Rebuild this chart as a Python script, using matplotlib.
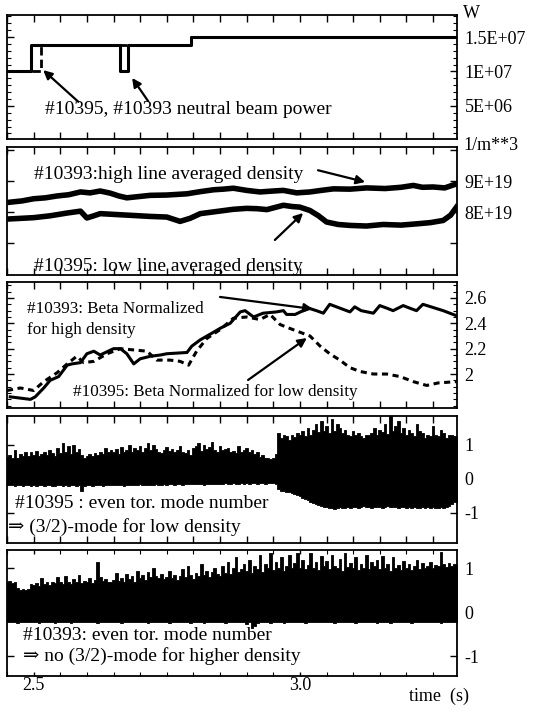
import numpy as np
import matplotlib
matplotlib.use("Agg")
import matplotlib.pyplot as plt
from matplotlib.ticker import MultipleLocator

plt.rcParams['font.family'] = ['Liberation Serif', 'DejaVu Serif']

# ---------------- data ----------------
# Panel 1: neutral beam power (W), step signals
nbi_t_10393 = [2.45, 2.496, 2.662, 2.678, 2.795, 3.295]
nbi_p_10393 = [1.0e7, 1.38e7, 1.0e7, 1.38e7, 1.5e7, 1.5e7]
nbi_t_10395 = [2.45, 2.514, 2.795, 3.295]
nbi_p_10395 = [1.0e7, 1.38e7, 1.5e7, 1.5e7]

# Panel 2: line averaged density (1e19 m^-3)
dens_hi_t = [2.456, 2.478, 2.500, 2.522, 2.544, 2.566, 2.588, 2.606, 2.625, 2.644,
             2.660, 2.675, 2.697, 2.719, 2.750, 2.788, 2.813, 2.838, 2.856, 2.875,
             2.900, 2.925, 2.950, 2.969, 2.994, 3.019, 3.040, 3.063, 3.094, 3.125,
             3.160, 3.190, 3.213, 3.230, 3.250, 3.272, 3.294]
dens_hi = [8.32, 8.36, 8.43, 8.46, 8.52, 8.56, 8.65, 8.62, 8.68, 8.61,
           8.52, 8.46, 8.50, 8.54, 8.55, 8.59, 8.66, 8.72, 8.74, 8.77,
           8.70, 8.65, 8.68, 8.70, 8.62, 8.65, 8.70, 8.75, 8.74, 8.78,
           8.76, 8.80, 8.86, 8.80, 8.81, 8.78, 8.91]
dens_lo_t = [2.456, 2.478, 2.500, 2.531, 2.563, 2.588, 2.600, 2.613, 2.625, 2.656,
             2.688, 2.719, 2.750, 2.775, 2.794, 2.813, 2.844, 2.875, 2.900, 2.919,
             2.938, 2.969, 2.985, 3.000, 3.019, 3.035, 3.050, 3.072, 3.094, 3.125,
             3.156, 3.190, 3.219, 3.245, 3.269, 3.283, 3.294]
dens_lo = [7.78, 7.80, 7.82, 7.88, 7.97, 8.03, 7.81, 7.88, 7.95, 7.92,
           7.89, 7.86, 7.84, 7.70, 7.80, 7.95, 8.02, 8.09, 8.12, 8.11,
           8.08, 8.22, 8.18, 8.16, 8.05, 7.88, 7.68, 7.60, 7.57, 7.55,
           7.60, 7.58, 7.62, 7.66, 7.73, 7.90, 8.16]

# Panel 3: normalized beta
beta_hi_t = [2.456, 2.475, 2.494, 2.503, 2.519, 2.531, 2.547, 2.563, 2.572, 2.588,
             2.600, 2.613, 2.625, 2.650, 2.663, 2.675, 2.688, 2.700, 2.719, 2.738,
             2.750, 2.788, 2.797, 2.813, 2.838, 2.850, 2.869, 2.888, 2.897, 2.913,
             2.931, 2.956, 2.969, 2.975, 2.991, 3.016, 3.031, 3.044, 3.056, 3.075,
             3.094, 3.103, 3.115, 3.138, 3.150, 3.163, 3.175, 3.194, 3.206, 3.219,
             3.231, 3.269, 3.294]
beta_hi = [1.82, 1.81, 1.80, 1.82, 1.89, 1.95, 1.98, 2.07, 2.08, 2.09,
           2.16, 2.18, 2.15, 2.20, 2.20, 2.16, 2.08, 2.12, 2.14, 2.15,
           2.16, 2.17, 2.22, 2.27, 2.33, 2.36, 2.40, 2.49, 2.50, 2.45,
           2.48, 2.49, 2.50, 2.47, 2.47, 2.52, 2.50, 2.48, 2.55, 2.52,
           2.49, 2.53, 2.50, 2.48, 2.54, 2.52, 2.50, 2.54, 2.52, 2.50,
           2.55, 2.50, 2.46]
beta_lo_t = [2.450, 2.475, 2.500, 2.519, 2.544, 2.563, 2.581, 2.594, 2.613, 2.638,
             2.663, 2.688, 2.713, 2.731, 2.756, 2.775, 2.791, 2.806, 2.825, 2.850,
             2.875, 2.900, 2.925, 2.944, 2.963, 2.981, 3.000, 3.019, 3.038, 3.056,
             3.075, 3.094, 3.113, 3.138, 3.163, 3.188, 3.213, 3.238, 3.260, 3.294]
beta_lo = [1.87, 1.89, 1.87, 1.94, 2.01, 2.08, 2.14, 2.09, 2.10, 2.16,
           2.20, 2.19, 2.18, 2.11, 2.11, 2.10, 2.07, 2.18, 2.28, 2.35,
           2.44, 2.45, 2.43, 2.47, 2.39, 2.36, 2.33, 2.30, 2.22, 2.16,
           2.11, 2.05, 2.02, 2.00, 2.00, 1.98, 1.94, 1.91, 1.93, 1.94]

# Panels 4/5: mode signals (upper / lower envelope), sampled every 5 ms from 2.450 s
sig_t0, sig_dt = 2.450, 0.005
mode10395_hi = [
    0.65, 0.70, 0.62, 0.85, 0.60, 0.72, 0.68, 0.78, 0.66, 0.80,
    0.70, 0.82, 0.66, 0.74, 0.80, 0.70, 0.85, 0.76, 0.68, 0.90,
    0.75, 1.05, 0.80, 0.95, 0.72, 0.98, 0.78, 0.88, 0.70, 0.62,
    0.68, 0.74, 0.66, 0.76, 0.70, 0.80, 0.74, 0.90, 0.78, 0.84,
    0.80, 0.88, 0.74, 0.92, 0.80, 0.86, 1.00, 0.78, 0.90, 0.84,
    0.95, 0.80, 0.90, 1.05, 0.85, 1.00, 0.88, 0.80, 0.75, 0.85,
    0.92, 0.82, 0.88, 0.78, 0.85, 0.95, 0.80, 0.75, 0.86, 0.70,
    0.90, 0.95, 1.05, 0.82, 1.00, 0.88, 0.92, 1.08, 0.86, 0.80,
    0.95, 0.85, 0.88, 0.90, 0.78, 0.82, 0.75, 0.95, 0.80, 0.85,
    0.90, 0.80, 0.85, 0.72, 0.78, 0.65, 0.70, 0.62, 0.60, 0.58,
    0.62, 0.72, 1.35, 1.20, 1.30, 1.25, 1.15, 1.30, 1.22, 1.35,
    1.28, 1.40, 1.25, 1.50, 1.30, 1.45, 1.60, 1.38, 1.70, 1.42,
    1.55, 1.35, 1.75, 1.40, 1.62, 1.50, 1.35, 1.45, 1.30, 1.25,
    1.40, 1.30, 1.35, 1.25, 1.20, 1.30, 1.28, 1.35, 1.50, 1.30,
    1.45, 1.38, 1.60, 1.32, 1.85, 1.40, 1.55, 1.70, 1.35, 1.50,
    1.30, 1.45, 1.35, 1.25, 1.60, 1.40, 1.35, 1.20, 1.30, 1.25,
    1.55, 1.30, 1.25, 1.45, 1.35, 1.20, 1.30, 1.28, 1.25, 1.22]
mode10395_lo = [
    -0.18, -0.20, -0.19, -0.21, -0.20, -0.18, -0.22, -0.20, -0.19, -0.21,
    -0.20, -0.22, -0.19, -0.20, -0.21, -0.19, -0.20, -0.21, -0.22, -0.20,
    -0.19, -0.21, -0.20, -0.22, -0.20, -0.19, -0.21, -0.20, -0.36, -0.21,
    -0.20, -0.19, -0.21, -0.20, -0.18, -0.20, -0.21, -0.19, -0.20, -0.18,
    -0.19, -0.20, -0.18, -0.19, -0.21, -0.20, -0.18, -0.19, -0.20, -0.18,
    -0.17, -0.19, -0.18, -0.20, -0.19, -0.18, -0.17, -0.19, -0.18, -0.17,
    -0.18, -0.16, -0.17, -0.18, -0.16, -0.17, -0.18, -0.16, -0.17, -0.15,
    -0.16, -0.17, -0.15, -0.16, -0.18, -0.15, -0.16, -0.17, -0.15, -0.16,
    -0.15, -0.16, -0.14, -0.15, -0.16, -0.14, -0.15, -0.16, -0.14, -0.15,
    -0.14, -0.15, -0.13, -0.14, -0.15, -0.14, -0.13, -0.15, -0.14, -0.13,
    -0.14, -0.15, -0.32, -0.35, -0.36, -0.38, -0.40, -0.42, -0.45, -0.48,
    -0.52, -0.56, -0.60, -0.64, -0.68, -0.72, -0.75, -0.78, -0.80, -0.83,
    -0.85, -0.88, -0.86, -0.90, -0.87, -0.85, -0.88, -0.86, -0.84, -0.87,
    -0.85, -0.83, -0.86, -0.84, -0.82, -0.85, -0.83, -0.86, -0.84, -0.85,
    -0.83, -0.86, -0.84, -0.82, -0.85, -0.83, -0.84, -0.86, -0.85, -0.83,
    -0.86, -0.84, -0.87, -0.85, -0.88, -0.86, -0.84, -0.87, -0.85, -0.86,
    -0.84, -0.88, -0.86, -0.85, -0.87, -0.84, -0.80, -0.75, -0.70, -0.68]
mode10393_hi = [
    0.68, 0.72, 0.66, 0.70, 0.55, 0.52, 0.54, 0.50, 0.53, 0.64,
    0.62, 0.66, 0.60, 0.78, 0.64, 0.68, 0.62, 0.70, 0.66, 0.80,
    0.68, 0.65, 0.82, 0.70, 0.64, 0.75, 0.68, 0.85, 0.66, 0.72,
    0.70, 0.78, 0.66, 0.74, 1.15, 0.80, 0.72, 0.76, 0.70, 0.68,
    0.74, 0.90, 0.72, 0.78, 0.70, 0.88, 0.75, 0.82, 0.70, 0.95,
    0.78, 0.85, 0.74, 0.92, 0.80, 1.00, 0.82, 0.78, 0.88, 0.76,
    0.80, 0.95, 0.78, 0.86, 0.74, 0.82, 0.98, 0.80, 1.05, 0.84,
    0.76, 0.90, 0.82, 1.10, 0.85, 0.95, 0.80, 0.92, 1.00, 0.88,
    0.82, 1.05, 0.90, 1.15, 0.88, 1.00, 1.25, 0.92, 0.98, 1.10,
    0.95, 1.20, 0.90, 1.05, 0.98, 1.30, 0.92, 1.10, 1.00, 1.35,
    0.96, 1.15, 1.02, 1.25, 0.94, 1.05, 1.30, 1.00, 1.12, 1.36,
    1.00, 1.20, 0.98, 1.08, 1.35, 1.02, 1.15, 0.96, 1.28, 1.05,
    1.18, 0.98, 1.30, 1.06, 1.00, 1.22, 0.95, 1.36, 1.04, 1.12,
    1.00, 1.25, 0.96, 1.10, 1.02, 1.30, 0.98, 1.15, 1.05, 1.20,
    0.98, 1.28, 1.02, 1.10, 0.95, 1.25, 1.00, 1.08, 0.96, 1.18,
    1.02, 1.10, 0.96, 1.05, 1.20, 0.98, 1.12, 1.00, 1.06, 1.15,
    1.02, 1.08, 1.05, 1.38, 1.10, 1.04, 1.12, 1.06, 1.10, 1.08]
mode10393_lo = [
    -0.22, -0.23, -0.21, -0.22, -0.24, -0.22, -0.21, -0.23, -0.22, -0.21,
    -0.23, -0.22, -0.24, -0.21, -0.22, -0.23, -0.21, -0.22, -0.24, -0.22,
    -0.21, -0.23, -0.22, -0.21, -0.24, -0.22, -0.23, -0.21, -0.22, -0.23,
    -0.22, -0.21, -0.23, -0.22, -0.24, -0.21, -0.22, -0.23, -0.22, -0.21,
    -0.23, -0.22, -0.21, -0.24, -0.22, -0.23, -0.21, -0.22, -0.23, -0.22,
    -0.21, -0.23, -0.22, -0.24, -0.21, -0.22, -0.23, -0.22, -0.21, -0.23,
    -0.22, -0.24, -0.21, -0.22, -0.23, -0.22, -0.21, -0.23, -0.22, -0.24,
    -0.22, -0.21, -0.23, -0.22, -0.24, -0.21, -0.22, -0.23, -0.22, -0.21,
    -0.23, -0.22, -0.24, -0.21, -0.22, -0.23, -0.22, -0.21, -0.23, -0.22,
    -0.26, -0.22, -0.36, -0.30, -0.24, -0.22, -0.23, -0.21, -0.22, -0.24,
    -0.22, -0.21, -0.23, -0.22, -0.24, -0.21, -0.22, -0.23, -0.22, -0.21,
    -0.23, -0.22, -0.24, -0.21, -0.22, -0.23, -0.22, -0.21, -0.23, -0.22,
    -0.21, -0.23, -0.22, -0.24, -0.21, -0.22, -0.23, -0.22, -0.21, -0.23,
    -0.22, -0.24, -0.21, -0.22, -0.23, -0.22, -0.21, -0.23, -0.22, -0.24,
    -0.22, -0.21, -0.23, -0.22, -0.24, -0.21, -0.22, -0.23, -0.22, -0.21,
    -0.23, -0.22, -0.24, -0.21, -0.22, -0.23, -0.22, -0.21, -0.23, -0.22,
    -0.21, -0.23, -0.22, -0.24, -0.21, -0.22, -0.23, -0.22, -0.21, -0.23]

x_tick_pos = [2.5, 3.0]
x_tick_labels = ['2.5', '3.0']
p1_ticks = [5e6, 1e7, 1.5e7]
p1_labels = ['5E+06', '1E+07', '1.5E+07']
p2_ticks = [7e19, 8e19, 9e19, 1e20]
p2_labels = ['', '8E+19', '9E+19', '']
p3_ticks = [2.0, 2.2, 2.4, 2.6]
p3_labels = ['2', '2.2', '2.4', '2.6']
p45_ticks = [-1, 0, 1]
p45_labels = ['-1', '0', '1']

# ---------------- figure ----------------
W, H = 556, 711
fig = plt.figure(figsize=(W / 100, H / 100), dpi=100)

def px_axes(top, bottom, left=7, right=457):
    return fig.add_axes([left / W, 1 - bottom / H, (right - left) / W, (bottom - top) / H])

ax1 = px_axes(15, 139)
ax2 = px_axes(147, 275)
ax3 = px_axes(282, 408)
ax4 = px_axes(416, 543)
ax5 = px_axes(550, 676)
axes = [ax1, ax2, ax3, ax4, ax5]

TFS = 13
AFS = 14
AFS3 = 12.3
for ax in axes:
    ax.set_xlim(2.45, 3.295)
    for s in ax.spines.values():
        s.set_linewidth(1.3)
    ax.xaxis.set_major_locator(MultipleLocator(0.05))
    ax.tick_params(axis='both', which='both', direction='in', top=True, bottom=True,
                   left=True, right=True, labelleft=False, labelright=True,
                   labelbottom=False, labelsize=TFS, pad=5.5)
    ax.tick_params(axis='both', which='major', length=5, width=1)
    ax.tick_params(axis='both', which='minor', length=3, width=0.8)

arr = dict(arrowstyle='-|>', color='k', lw=1.6, mutation_scale=13, shrinkA=0, shrinkB=0)

# Panel 1
ax1.plot(nbi_t_10395, nbi_p_10395, drawstyle='steps-post', color='k', lw=2.0,
         linestyle=(0, (3, 1.5)))
ax1.plot(nbi_t_10393, nbi_p_10393, drawstyle='steps-post', color='k', lw=2.2)
ax1.set_ylim(0.2e6, 1.82e7)
ax1.set_yticks(p1_ticks, p1_labels)
ax1.yaxis.set_minor_locator(MultipleLocator(1e6))
ax1.text(2.522, 4.5e6, '#10395, #10393 neutral beam power', fontsize=AFS, va='center', ha='left')
ax1.annotate('', xy=(2.518, 1.02e7), xytext=(2.584, 5.6e6), arrowprops=arr)
ax1.annotate('', xy=(2.685, 9.06e6), xytext=(2.715, 5.7e6), arrowprops=arr)

# Panel 2
ax2.plot(dens_hi_t, np.array(dens_hi) * 1e19, color='k', lw=4.0)
ax2.plot(dens_lo_t, np.array(dens_lo) * 1e19, color='k', lw=4.0)
ax2.set_ylim(5.97e19, 10.1e19)
ax2.set_yticks(p2_ticks, p2_labels)
ax2.text(2.50, 9.2e19, '#10393:high line averaged density', fontsize=AFS, va='center', ha='left')
ax2.text(2.50, 6.23e19, '#10395: low line averaged density', fontsize=AFS, va='center', ha='left')
ax2.annotate('', xy=(3.1225, 8.97e19), xytext=(3.034, 9.35e19), arrowprops=arr)
ax2.annotate('', xy=(3.006, 7.97e19), xytext=(2.953, 7.10e19), arrowprops=arr)

# Panel 3
ax3.plot(beta_lo_t, beta_lo, color='k', lw=2.2, linestyle=(0, (2, 1.5)))
ax3.plot(beta_hi_t, beta_hi, color='k', lw=2.2)
ax3.set_ylim(1.732, 2.726)
ax3.set_yticks(p3_ticks, p3_labels)
ax3.yaxis.set_minor_locator(MultipleLocator(0.05))
ax3.text(2.488, 2.43, '#10393: Beta Normalized\nfor high density', fontsize=AFS3,
         va='center', ha='left', linespacing=1.45)
ax3.text(2.5746, 1.862, '#10395: Beta Normalized for low density', fontsize=AFS3,
         va='center', ha='left')
ax3.annotate('', xy=(3.0244, 2.513), xytext=(2.850, 2.608), arrowprops=arr)
ax3.annotate('', xy=(3.013, 2.284), xytext=(2.9027, 1.953), arrowprops=arr)

# Panels 4 and 5
for ax, hi, lo in [(ax4, mode10395_hi, mode10395_lo), (ax5, mode10393_hi, mode10393_lo)]:
    t = sig_t0 + sig_dt * np.arange(len(hi))
    ax.fill_between(t, lo, hi, step='mid', color='k', lw=0.6, edgecolor='k')
    ax.set_yticks(p45_ticks, p45_labels)

ax4.set_ylim(-1.9, 1.85)
ax5.set_ylim(-1.45, 1.42)
ax4.text(2.4657, -0.735, '#10395 : even tor. mode number', fontsize=AFS, va='center', ha='left')
ax4.text(2.4525, -1.44, '\u21d2 (3/2)-mode for low density', fontsize=AFS, va='center', ha='left')
ax5.text(2.4807, -0.53, '#10393: even tor. mode number', fontsize=AFS, va='center', ha='left')
ax5.text(2.4807, -1.0, '\u21d2 no (3/2)-mode for higher density', fontsize=AFS, va='center', ha='left')

ax5.set_xticks(x_tick_pos, x_tick_labels, minor=False)
ax5.xaxis.set_minor_locator(MultipleLocator(0.05))
ax5.tick_params(axis='x', which='both', labelbottom=True, pad=0.5)
ax5.tick_params(axis='x', which='major', length=3)

# unit labels
fig.text(463 / W, 1 - 13 / H, 'W', fontsize=TFS, va='center', ha='left')
fig.text(463 / W, 1 - 146 / H, '1/m**3', fontsize=TFS, va='center', ha='left')
fig.text(439 / W, 1 - 696 / H, 'time  (s)', fontsize=TFS, va='center', ha='center')

fig.savefig('out.png', dpi=100)
